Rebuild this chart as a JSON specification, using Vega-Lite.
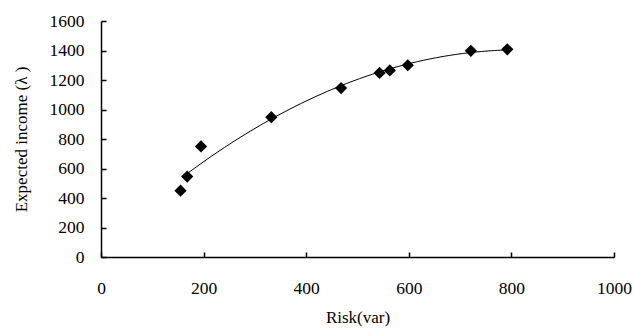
{
  "$schema": "https://vega.github.io/schema/vega-lite/v6.json",
  "width": 513,
  "height": 236,
  "padding": {"left": 101, "top": 21, "right": 20, "bottom": 77},
  "autosize": {"type": "none"},
  "background": "white",
  "config": {
    "view": {"stroke": null},
    "font": "Liberation Serif",
    "axis": {
      "domainColor": "black", "domainWidth": 1.5, "tickColor": "black", "tickWidth": 1.5,
      "tickSize": -5, "grid": false, "labelColor": "black", "titleColor": "black",
      "labelFont": "Liberation Serif", "titleFont": "Liberation Serif",
      "labelFontSize": 17.5, "titleFontSize": 17, "titleFontWeight": "normal", "format": "d",
      "labelFlush": false
    }
  },
  "data": {"values": [
    {"risk": 155, "income": 450},
    {"risk": 168, "income": 545},
    {"risk": 195, "income": 750},
    {"risk": 332, "income": 948},
    {"risk": 468, "income": 1145},
    {"risk": 543, "income": 1248},
    {"risk": 563, "income": 1265},
    {"risk": 598, "income": 1300},
    {"risk": 721, "income": 1398},
    {"risk": 792, "income": 1408}
  ]},
  "encoding": {
    "x": {"field": "risk", "type": "quantitative", "scale": {"domain": [0, 1000], "nice": false},
      "axis": {"values": [0, 200, 400, 600, 800, 1000], "format": "d", "labelFlush": false, "title": "Risk(var)", "labelPadding": 27, "titlePadding": 13}},
    "y": {"field": "income", "type": "quantitative", "scale": {"domain": [0, 1600], "nice": false},
      "axis": {"values": [0, 200, 400, 600, 800, 1000, 1200, 1400, 1600], "format": "d", "labelFlush": false, "title": "Expected income (λ )", "labelPadding": 22, "titlePadding": 19}}
  },
  "layer": [
    {
      "transform": [{"regression": "income", "on": "risk", "method": "poly", "order": 2, "extent": [166, 792]}],
      "mark": {"type": "line", "color": "black", "strokeWidth": 1}
    },
    {
      "mark": {"type": "point", "shape": "diamond", "filled": true, "color": "black", "opacity": 1, "size": 150}
    }
  ]
}
